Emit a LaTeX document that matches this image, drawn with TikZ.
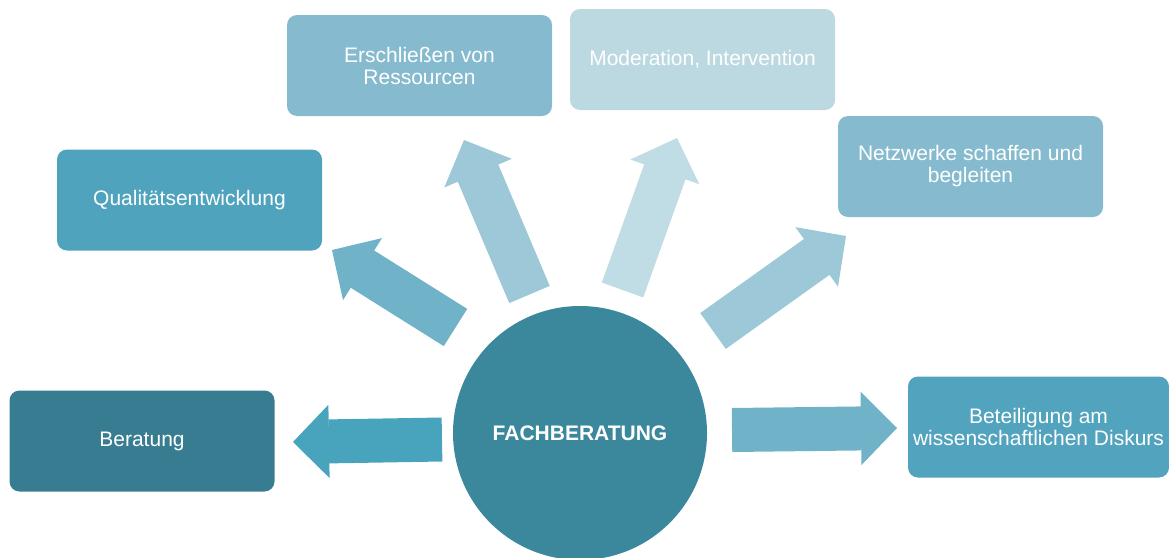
\documentclass[tikz,border=0pt]{standalone}
\usepackage{fontspec}
\setmainfont{Liberation Sans}
\usetikzlibrary{arrows.meta}
\definecolor{hubcol}{HTML}{3B889C}
\definecolor{berbox}{HTML}{377C90}
\definecolor{berarr}{HTML}{48A4BD}
\definecolor{qualbox}{HTML}{4FA3BD}
\definecolor{midarr}{HTML}{70B3C9}
\definecolor{resbox}{HTML}{86BBCF}
\definecolor{lightarr}{HTML}{9CC8D7}
\definecolor{modbox}{HTML}{BCD9E2}
\definecolor{modarr}{HTML}{C0DCE5}
\definecolor{disbox}{HTML}{51A3BE}
\begin{document}
\begin{tikzpicture}[x=0.75pt,y=-0.75pt,inner sep=0pt,outer sep=0pt,
box/.style={rectangle,rounded corners=7.5pt,minimum width=198.75pt,minimum height=75.75pt,text=white,align=center,font=\fontsize{15.75}{16.5}\selectfont},
bigarrow/.style={line width=33pt,-{Triangle[width=54.75pt,length=27pt,line width=1pt]}}]
\clip (0,0) rectangle (1169,557);

\node[circle,fill=hubcol,minimum size=190.5pt,text=white,font=\fontsize{15.75}{16.5}\selectfont\bfseries] (fb) at (580,433) {FACHBERATUNG};

\node[box,fill=berbox] (ber) at (142,441) {Beratung};
\node[box,fill=qualbox] (qual) at (189.5,200) {Qualitätsentwicklung};
\node[box,fill=resbox] (res) at (419.5,65.5) {Erschließen von\\Ressourcen};
\node[box,fill=modbox] (mod) at (702.5,59.5) {Moderation, Intervention};
\node[box,fill=resbox] (netz) at (970.5,166.5) {Netzwerke schaffen und\\begleiten};
\node[box,fill=disbox,minimum width=195.75pt] (dis) at (1038.5,427) {Beteiligung am\\wissenschaftlichen Diskurs};

% arrow ends
\coordinate (ber-a) at (442,439.5);  \coordinate (ber-b) at (293,442);
\coordinate (qual-a) at (455.5,327.5); \coordinate (qual-b) at (332,250);
\coordinate (res-a) at (529.5,294.5); \coordinate (res-b) at (464,140);
\coordinate (mod-a) at (622.5,290);  \coordinate (mod-b) at (677,138);
\coordinate (netz-a) at (713,331);   \coordinate (netz-b) at (846,236);
\coordinate (dis-a) at (732,430);    \coordinate (dis-b) at (897,428);

\draw[bigarrow,berarr] (ber-a) -- (ber-b);
\draw[bigarrow,midarr] (qual-a) -- (qual-b);
\draw[bigarrow,lightarr] (res-a) -- (res-b);
\draw[bigarrow,modarr] (mod-a) -- (mod-b);
\draw[bigarrow,lightarr] (netz-a) -- (netz-b);
\draw[bigarrow,midarr] (dis-a) -- (dis-b);
\end{tikzpicture}
\end{document}
